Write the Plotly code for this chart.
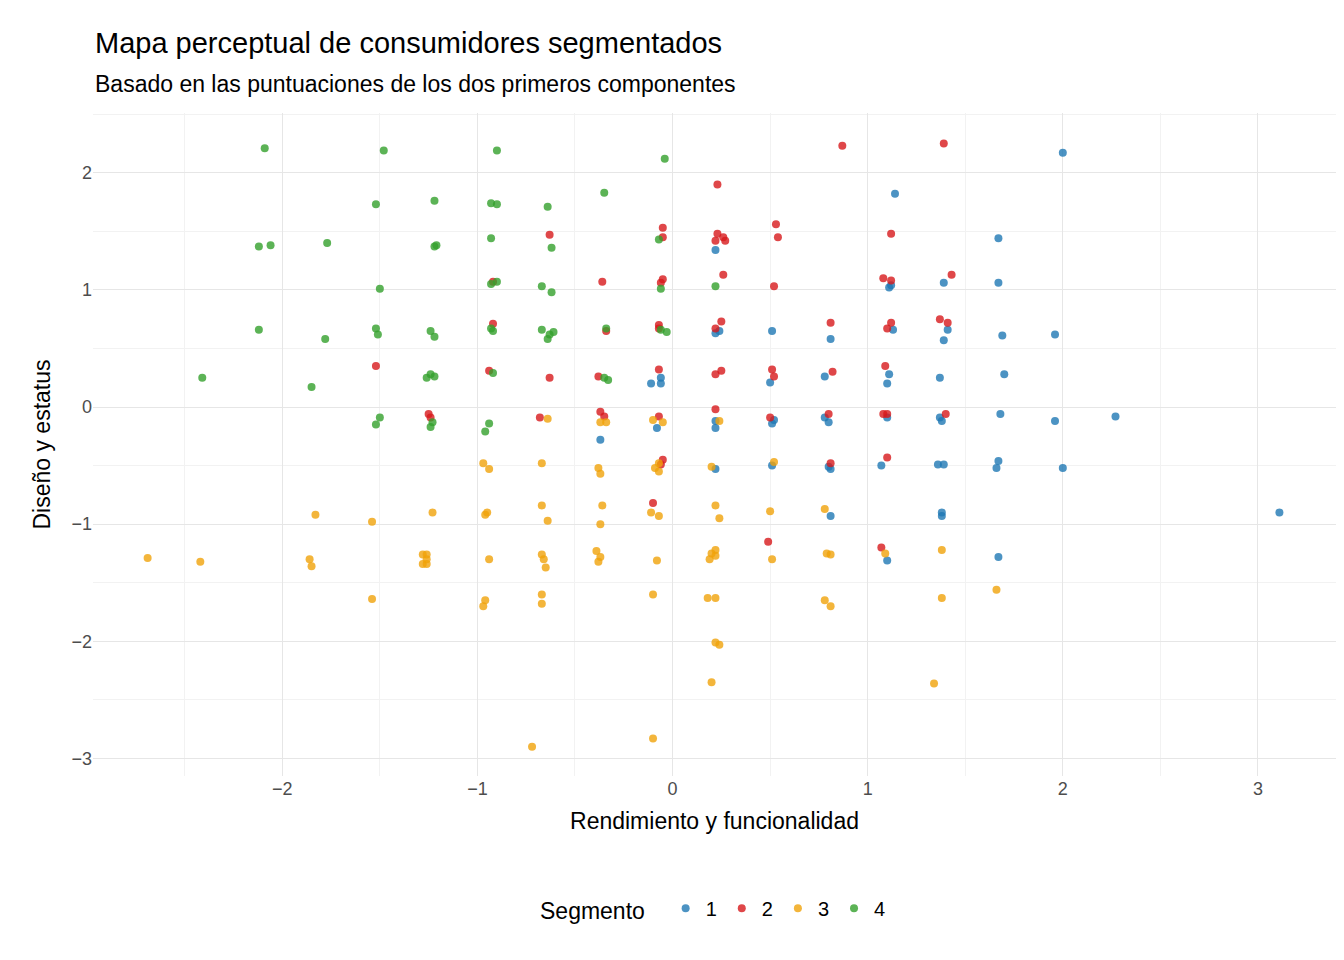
import plotly.graph_objects as go

seg1_x = [2.0,1.14,0.22,1.67,1.67,1.39,1.11,1.12,1.96,1.69,1.41,1.39,1.13,0.81,0.51,0.22,0.24,1.70,1.37,1.11,1.10,0.78,0.50,-0.06,-0.11,-0.06,2.27,1.96,1.68,1.37,1.38,1.10,0.78,0.80,0.51,0.52,0.22,0.22,-0.08,-0.37,2.0,1.67,1.66,1.39,1.36,1.07,0.81,0.80,0.51,0.22,3.11,1.38,1.38,0.81,1.67,1.10]
seg1_y = [2.17,1.82,1.34,1.44,1.06,1.06,1.02,1.04,0.62,0.61,0.66,0.57,0.66,0.58,0.65,0.63,0.65,0.28,0.25,0.28,0.20,0.26,0.21,0.25,0.20,0.20,-0.08,-0.12,-0.06,-0.09,-0.12,-0.09,-0.09,-0.13,-0.14,-0.11,-0.12,-0.18,-0.18,-0.28,-0.52,-0.46,-0.52,-0.49,-0.49,-0.50,-0.53,-0.51,-0.50,-0.53,-0.90,-0.90,-0.93,-0.93,-1.28,-1.31]

seg2_x = [0.87,1.39,0.23,-0.05,0.53,0.23,0.26,0.27,0.22,-0.05,0.54,1.12,-0.63,0.26,1.43,-0.05,-0.06,-0.36,-0.92,1.08,1.12,0.52,-0.92,-0.07,-0.07,0.25,0.22,0.81,1.12,1.10,1.37,1.41,-0.34,-1.52,-0.94,-0.07,0.25,0.22,0.51,0.52,0.82,1.09,-0.63,-0.38,0.22,-1.25,-1.24,-0.68,-0.37,-0.35,-0.07,0.50,0.80,1.08,1.10,1.40,-0.05,-0.06,1.10,0.81,-0.10,0.49,1.07]
seg2_y = [2.23,2.25,1.90,1.53,1.56,1.48,1.45,1.42,1.42,1.45,1.45,1.48,1.47,1.13,1.13,1.09,1.06,1.07,1.07,1.10,1.08,1.03,0.71,0.70,0.67,0.73,0.67,0.72,0.72,0.67,0.75,0.72,0.65,0.35,0.31,0.32,0.31,0.28,0.32,0.26,0.30,0.35,0.25,0.26,-0.02,-0.06,-0.09,-0.09,-0.04,-0.08,-0.08,-0.09,-0.06,-0.06,-0.06,-0.06,-0.45,-0.49,-0.43,-0.48,-0.82,-1.15,-1.20]

seg3_x = [-2.69,-2.42,-1.86,-1.85,-1.83,-1.54,-1.54,-1.28,-1.26,-1.28,-1.26,-1.26,-1.23,-0.97,-0.94,-0.95,-0.96,-0.94,-0.96,-0.97,-0.67,-0.64,-0.67,-0.64,-0.67,-0.66,-0.65,-0.67,-0.67,-0.72,-0.38,-0.37,-0.36,-0.37,-0.39,-0.37,-0.38,-0.37,-0.34,-0.10,-0.05,-0.09,-0.07,-0.07,-0.11,-0.07,-0.08,-0.10,-0.10,0.20,0.22,0.24,0.20,0.22,0.19,0.22,0.18,0.22,0.22,0.24,0.20,0.24,0.52,0.50,0.51,0.78,0.79,0.81,0.78,0.81,1.09,1.38,1.38,1.34,1.66]
seg3_y = [-1.29,-1.32,-1.30,-1.36,-0.92,-0.98,-1.64,-1.26,-1.26,-1.34,-1.34,-1.30,-0.90,-0.48,-0.53,-0.90,-0.92,-1.30,-1.65,-1.70,-0.48,-0.10,-0.84,-0.97,-1.26,-1.30,-1.37,-1.60,-1.68,-2.90,-0.52,-0.57,-0.84,-1.00,-1.23,-1.28,-1.32,-0.13,-0.13,-0.11,-0.13,-0.52,-0.55,-0.48,-0.90,-0.93,-1.31,-1.60,-2.83,-0.51,-0.84,-0.95,-1.25,-1.22,-1.30,-1.27,-1.63,-1.63,-2.01,-2.03,-2.35,-0.12,-0.47,-0.89,-1.30,-0.87,-1.25,-1.26,-1.65,-1.70,-1.25,-1.22,-1.63,-2.36,-1.56]

seg4_x = [-2.09,-1.48,-0.90,-0.04,-0.35,-1.52,-1.22,-0.93,-0.90,-0.64,-2.12,-2.06,-1.77,-1.22,-1.21,-0.93,-0.62,-0.07,-1.50,-0.93,-0.90,-0.67,-0.62,-0.06,0.22,-2.12,-1.78,-1.52,-1.51,-1.24,-1.22,-0.93,-0.92,-0.67,-0.64,-0.63,-0.61,-0.34,-0.06,-0.03,-2.41,-1.85,-1.24,-1.26,-1.22,-0.92,-0.35,-0.33,-1.50,-1.52,-1.23,-1.24,-0.96,-0.94]
seg4_y = [2.21,2.19,2.19,2.12,1.83,1.73,1.76,1.74,1.73,1.71,1.37,1.38,1.40,1.37,1.38,1.44,1.36,1.43,1.01,1.05,1.07,1.03,0.98,1.01,1.03,0.66,0.58,0.67,0.62,0.65,0.60,0.67,0.65,0.66,0.58,0.62,0.64,0.67,0.66,0.64,0.25,0.17,0.28,0.25,0.26,0.29,0.25,0.23,-0.09,-0.15,-0.13,-0.17,-0.21,-0.14]

segments = ["1", "2", "3", "4"]
colors = ["#1F78B4", "#D7191C", "#F0A30A", "#33A02C"]
xs = [seg1_x, seg2_x, seg3_x, seg4_x]
ys = [seg1_y, seg2_y, seg3_y, seg4_y]

fig = go.Figure()
for name, c, x, y in zip(segments, colors, xs, ys):
    fig.add_trace(go.Scatter(x=x, y=y, mode="markers", name=name,
                             marker=dict(color=c, size=8, opacity=0.8)))

axis_common = dict(showgrid=True, gridcolor="#E6E6E6", gridwidth=1.2, zeroline=False,
                   showline=False, ticks="", tickfont=dict(size=18, color="#4D4D4D"),
                   automargin=False,
                   minor=dict(showgrid=True, gridcolor="#F2F2F2", gridwidth=0.8, dtick=0.5))
fig.update_layout(
    width=1344, height=960, plot_bgcolor="white", paper_bgcolor="white",
    font=dict(family="Liberation Sans, Arial, sans-serif", color="black"),
    margin=dict(l=85, r=16, t=105, b=192),
    xaxis=dict(range=[-2.97, 3.40], dtick=1, title=dict(text="Rendimiento y funcionalidad", font=dict(size=23), standoff=14), **axis_common),
    yaxis=dict(range=[-3.15, 2.51], dtick=1, title=dict(text="Diseño y estatus", font=dict(size=23), standoff=14), **axis_common),
    legend=dict(orientation="h", x=0.5, xanchor="center", y=-0.17, yanchor="top",
                title=dict(text="Segmento  ", font=dict(size=23)), font=dict(size=20)),
    annotations=[
        dict(text="Mapa perceptual de consumidores segmentados", xref="paper", yref="paper",
             x=0, y=1, xanchor="left", yanchor="bottom", yshift=52, showarrow=False,
             font=dict(size=29)),
        dict(text="Basado en las puntuaciones de los dos primeros componentes", xref="paper", yref="paper",
             x=0, y=1, xanchor="left", yanchor="bottom", yshift=14, showarrow=False,
             font=dict(size=23)),
    ],
)
fig.write_html("out.html")
